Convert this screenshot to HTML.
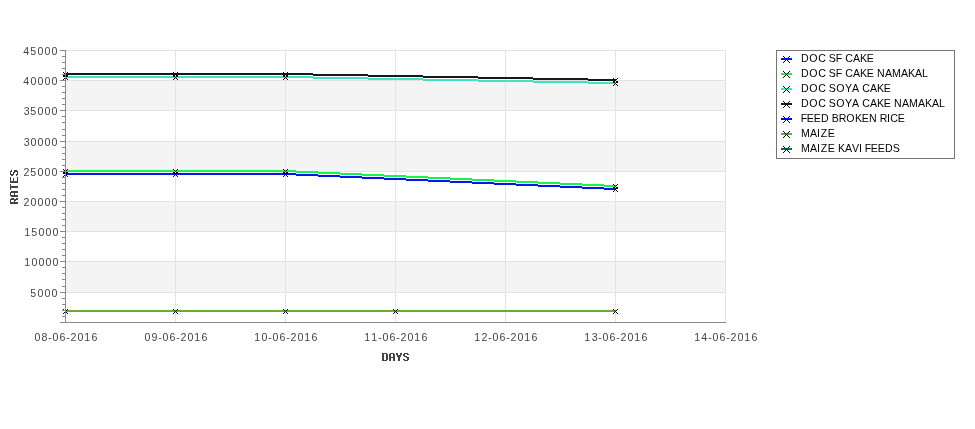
<!DOCTYPE html>
<html><head><meta charset="utf-8"><style>
html,body{margin:0;padding:0;background:#fff;width:975px;height:429px;overflow:hidden}
svg{display:block;will-change:transform}
text{font-family:"Liberation Sans",sans-serif;font-size:10.6px}
</style></head><body>
<svg width="975" height="429" viewBox="0 0 975 429">
<g shape-rendering="crispEdges">
<rect x="65" y="261" width="661" height="31" fill="#F4F4F4"/>
<rect x="65" y="201" width="661" height="30" fill="#F4F4F4"/>
<rect x="65" y="141" width="661" height="30" fill="#F4F4F4"/>
<rect x="65" y="80" width="661" height="30" fill="#F4F4F4"/>
<rect x="65" y="292" width="661" height="1" fill="#E3E3E3"/>
<rect x="65" y="261" width="661" height="1" fill="#E3E3E3"/>
<rect x="65" y="231" width="661" height="1" fill="#E3E3E3"/>
<rect x="65" y="201" width="661" height="1" fill="#E3E3E3"/>
<rect x="65" y="171" width="661" height="1" fill="#E3E3E3"/>
<rect x="65" y="141" width="661" height="1" fill="#E3E3E3"/>
<rect x="65" y="110" width="661" height="1" fill="#E3E3E3"/>
<rect x="65" y="80" width="661" height="1" fill="#E3E3E3"/>
<rect x="65" y="50" width="661" height="1" fill="#E3E3E3"/>
<rect x="175" y="50" width="1" height="272" fill="#E3E3E3"/>
<rect x="285" y="50" width="1" height="272" fill="#E3E3E3"/>
<rect x="395" y="50" width="1" height="272" fill="#E3E3E3"/>
<rect x="505" y="50" width="1" height="272" fill="#E3E3E3"/>
<rect x="615" y="50" width="1" height="272" fill="#E3E3E3"/>
<rect x="725" y="50" width="1" height="272" fill="#E3E3E3"/>
<rect x="65" y="73" width="248" height="1" fill="#18161E"/>
<rect x="65" y="74" width="303" height="1" fill="#18161E"/>
<rect x="313" y="75" width="110" height="1" fill="#18161E"/>
<rect x="368" y="76" width="110" height="1" fill="#18161E"/>
<rect x="65" y="76" width="248" height="1" fill="#40E2C4"/>
<rect x="423" y="77" width="110" height="1" fill="#18161E"/>
<rect x="65" y="77" width="303" height="1" fill="#40E2C4"/>
<rect x="478" y="78" width="110" height="1" fill="#18161E"/>
<rect x="313" y="78" width="110" height="1" fill="#40E2C4"/>
<rect x="533" y="79" width="83" height="1" fill="#18161E"/>
<rect x="368" y="79" width="110" height="1" fill="#40E2C4"/>
<rect x="588" y="80" width="28" height="1" fill="#18161E"/>
<rect x="423" y="80" width="110" height="1" fill="#40E2C4"/>
<rect x="478" y="81" width="110" height="1" fill="#40E2C4"/>
<rect x="533" y="82" width="83" height="1" fill="#40E2C4"/>
<rect x="588" y="83" width="28" height="1" fill="#40E2C4"/>
<rect x="65" y="170" width="231" height="1" fill="#1AF44A"/>
<rect x="65" y="171" width="253" height="1" fill="#1AF44A"/>
<rect x="296" y="172" width="44" height="1" fill="#1AF44A"/>
<rect x="65" y="173" width="231" height="1" fill="#0018EE"/>
<rect x="318" y="173" width="44" height="1" fill="#1AF44A"/>
<rect x="65" y="174" width="253" height="1" fill="#0018EE"/>
<rect x="340" y="174" width="44" height="1" fill="#1AF44A"/>
<rect x="296" y="175" width="44" height="1" fill="#0018EE"/>
<rect x="362" y="175" width="44" height="1" fill="#1AF44A"/>
<rect x="318" y="176" width="44" height="1" fill="#0018EE"/>
<rect x="384" y="176" width="44" height="1" fill="#1AF44A"/>
<rect x="340" y="177" width="44" height="1" fill="#0018EE"/>
<rect x="406" y="177" width="44" height="1" fill="#1AF44A"/>
<rect x="362" y="178" width="44" height="1" fill="#0018EE"/>
<rect x="428" y="178" width="44" height="1" fill="#1AF44A"/>
<rect x="384" y="179" width="44" height="1" fill="#0018EE"/>
<rect x="450" y="179" width="44" height="1" fill="#1AF44A"/>
<rect x="406" y="180" width="44" height="1" fill="#0018EE"/>
<rect x="472" y="180" width="44" height="1" fill="#1AF44A"/>
<rect x="428" y="181" width="44" height="1" fill="#0018EE"/>
<rect x="494" y="181" width="44" height="1" fill="#1AF44A"/>
<rect x="450" y="182" width="44" height="1" fill="#0018EE"/>
<rect x="516" y="182" width="44" height="1" fill="#1AF44A"/>
<rect x="472" y="183" width="44" height="1" fill="#0018EE"/>
<rect x="538" y="183" width="44" height="1" fill="#1AF44A"/>
<rect x="494" y="184" width="44" height="1" fill="#0018EE"/>
<rect x="560" y="184" width="44" height="1" fill="#1AF44A"/>
<rect x="516" y="185" width="44" height="1" fill="#0018EE"/>
<rect x="582" y="185" width="34" height="1" fill="#1AF44A"/>
<rect x="538" y="186" width="44" height="1" fill="#0018EE"/>
<rect x="604" y="186" width="12" height="1" fill="#1AF44A"/>
<rect x="560" y="187" width="44" height="1" fill="#0018EE"/>
<rect x="582" y="188" width="34" height="1" fill="#0018EE"/>
<rect x="604" y="189" width="12" height="1" fill="#0018EE"/>
<rect x="65" y="310" width="551" height="1" fill="#68AE2C"/>
<rect x="65" y="311" width="551" height="1" fill="#68AE2C"/>
<rect x="63" y="72" width="1" height="1" fill="#000000"/>
<rect x="67" y="72" width="1" height="1" fill="#000000"/>
<rect x="173" y="72" width="1" height="1" fill="#000000"/>
<rect x="177" y="72" width="1" height="1" fill="#000000"/>
<rect x="283" y="72" width="1" height="1" fill="#000000"/>
<rect x="287" y="72" width="1" height="1" fill="#000000"/>
<rect x="64" y="73" width="1" height="1" fill="#000000"/>
<rect x="66" y="73" width="1" height="1" fill="#000000"/>
<rect x="174" y="73" width="1" height="1" fill="#000000"/>
<rect x="176" y="73" width="1" height="1" fill="#000000"/>
<rect x="284" y="73" width="1" height="1" fill="#000000"/>
<rect x="286" y="73" width="1" height="1" fill="#000000"/>
<rect x="65" y="74" width="1" height="1" fill="#000000"/>
<rect x="175" y="74" width="1" height="1" fill="#000000"/>
<rect x="285" y="74" width="1" height="1" fill="#000000"/>
<rect x="63" y="75" width="2" height="1" fill="#000000"/>
<rect x="66" y="75" width="2" height="1" fill="#000000"/>
<rect x="173" y="75" width="2" height="1" fill="#000000"/>
<rect x="176" y="75" width="2" height="1" fill="#000000"/>
<rect x="283" y="75" width="2" height="1" fill="#000000"/>
<rect x="286" y="75" width="2" height="1" fill="#000000"/>
<rect x="63" y="76" width="2" height="1" fill="#000000"/>
<rect x="66" y="76" width="2" height="1" fill="#000000"/>
<rect x="173" y="76" width="2" height="1" fill="#000000"/>
<rect x="176" y="76" width="2" height="1" fill="#000000"/>
<rect x="283" y="76" width="2" height="1" fill="#000000"/>
<rect x="286" y="76" width="2" height="1" fill="#000000"/>
<rect x="65" y="77" width="1" height="1" fill="#000000"/>
<rect x="175" y="77" width="1" height="1" fill="#000000"/>
<rect x="285" y="77" width="1" height="1" fill="#000000"/>
<rect x="64" y="78" width="1" height="1" fill="#000000"/>
<rect x="66" y="78" width="1" height="1" fill="#000000"/>
<rect x="174" y="78" width="1" height="1" fill="#000000"/>
<rect x="176" y="78" width="1" height="1" fill="#000000"/>
<rect x="284" y="78" width="1" height="1" fill="#000000"/>
<rect x="286" y="78" width="1" height="1" fill="#000000"/>
<rect x="613" y="78" width="1" height="1" fill="#000000"/>
<rect x="617" y="78" width="1" height="1" fill="#000000"/>
<rect x="63" y="79" width="1" height="1" fill="#000000"/>
<rect x="67" y="79" width="1" height="1" fill="#000000"/>
<rect x="173" y="79" width="1" height="1" fill="#000000"/>
<rect x="177" y="79" width="1" height="1" fill="#000000"/>
<rect x="283" y="79" width="1" height="1" fill="#000000"/>
<rect x="287" y="79" width="1" height="1" fill="#000000"/>
<rect x="614" y="79" width="1" height="1" fill="#000000"/>
<rect x="616" y="79" width="1" height="1" fill="#000000"/>
<rect x="615" y="80" width="1" height="1" fill="#000000"/>
<rect x="613" y="81" width="2" height="1" fill="#000000"/>
<rect x="616" y="81" width="2" height="1" fill="#000000"/>
<rect x="613" y="82" width="2" height="1" fill="#000000"/>
<rect x="616" y="82" width="2" height="1" fill="#000000"/>
<rect x="615" y="83" width="1" height="1" fill="#000000"/>
<rect x="614" y="84" width="1" height="1" fill="#000000"/>
<rect x="616" y="84" width="1" height="1" fill="#000000"/>
<rect x="613" y="85" width="1" height="1" fill="#000000"/>
<rect x="617" y="85" width="1" height="1" fill="#000000"/>
<rect x="63" y="169" width="1" height="1" fill="#000000"/>
<rect x="67" y="169" width="1" height="1" fill="#000000"/>
<rect x="173" y="169" width="1" height="1" fill="#000000"/>
<rect x="177" y="169" width="1" height="1" fill="#000000"/>
<rect x="283" y="169" width="1" height="1" fill="#000000"/>
<rect x="287" y="169" width="1" height="1" fill="#000000"/>
<rect x="64" y="170" width="1" height="1" fill="#000000"/>
<rect x="66" y="170" width="1" height="1" fill="#000000"/>
<rect x="174" y="170" width="1" height="1" fill="#000000"/>
<rect x="176" y="170" width="1" height="1" fill="#000000"/>
<rect x="284" y="170" width="1" height="1" fill="#000000"/>
<rect x="286" y="170" width="1" height="1" fill="#000000"/>
<rect x="65" y="171" width="1" height="1" fill="#000000"/>
<rect x="175" y="171" width="1" height="1" fill="#000000"/>
<rect x="285" y="171" width="1" height="1" fill="#000000"/>
<rect x="63" y="172" width="2" height="1" fill="#000000"/>
<rect x="66" y="172" width="2" height="1" fill="#000000"/>
<rect x="173" y="172" width="2" height="1" fill="#000000"/>
<rect x="176" y="172" width="2" height="1" fill="#000000"/>
<rect x="283" y="172" width="2" height="1" fill="#000000"/>
<rect x="286" y="172" width="2" height="1" fill="#000000"/>
<rect x="63" y="173" width="2" height="1" fill="#000000"/>
<rect x="66" y="173" width="2" height="1" fill="#000000"/>
<rect x="173" y="173" width="2" height="1" fill="#000000"/>
<rect x="176" y="173" width="2" height="1" fill="#000000"/>
<rect x="283" y="173" width="2" height="1" fill="#000000"/>
<rect x="286" y="173" width="2" height="1" fill="#000000"/>
<rect x="65" y="174" width="1" height="1" fill="#000000"/>
<rect x="175" y="174" width="1" height="1" fill="#000000"/>
<rect x="285" y="174" width="1" height="1" fill="#000000"/>
<rect x="64" y="175" width="1" height="1" fill="#000000"/>
<rect x="66" y="175" width="1" height="1" fill="#000000"/>
<rect x="174" y="175" width="1" height="1" fill="#000000"/>
<rect x="176" y="175" width="1" height="1" fill="#000000"/>
<rect x="284" y="175" width="1" height="1" fill="#000000"/>
<rect x="286" y="175" width="1" height="1" fill="#000000"/>
<rect x="63" y="176" width="1" height="1" fill="#000000"/>
<rect x="67" y="176" width="1" height="1" fill="#000000"/>
<rect x="173" y="176" width="1" height="1" fill="#000000"/>
<rect x="177" y="176" width="1" height="1" fill="#000000"/>
<rect x="283" y="176" width="1" height="1" fill="#000000"/>
<rect x="287" y="176" width="1" height="1" fill="#000000"/>
<rect x="613" y="184" width="1" height="1" fill="#000000"/>
<rect x="617" y="184" width="1" height="1" fill="#000000"/>
<rect x="614" y="185" width="1" height="1" fill="#000000"/>
<rect x="616" y="185" width="1" height="1" fill="#000000"/>
<rect x="615" y="186" width="1" height="1" fill="#000000"/>
<rect x="613" y="187" width="2" height="1" fill="#000000"/>
<rect x="616" y="187" width="2" height="1" fill="#000000"/>
<rect x="613" y="188" width="2" height="1" fill="#000000"/>
<rect x="616" y="188" width="2" height="1" fill="#000000"/>
<rect x="615" y="189" width="1" height="1" fill="#000000"/>
<rect x="614" y="190" width="1" height="1" fill="#000000"/>
<rect x="616" y="190" width="1" height="1" fill="#000000"/>
<rect x="613" y="191" width="1" height="1" fill="#000000"/>
<rect x="617" y="191" width="1" height="1" fill="#000000"/>
<rect x="63" y="309" width="1" height="1" fill="#000000"/>
<rect x="67" y="309" width="1" height="1" fill="#000000"/>
<rect x="173" y="309" width="1" height="1" fill="#000000"/>
<rect x="177" y="309" width="1" height="1" fill="#000000"/>
<rect x="283" y="309" width="1" height="1" fill="#000000"/>
<rect x="287" y="309" width="1" height="1" fill="#000000"/>
<rect x="393" y="309" width="1" height="1" fill="#000000"/>
<rect x="397" y="309" width="1" height="1" fill="#000000"/>
<rect x="613" y="309" width="1" height="1" fill="#000000"/>
<rect x="617" y="309" width="1" height="1" fill="#000000"/>
<rect x="64" y="310" width="1" height="1" fill="#000000"/>
<rect x="66" y="310" width="1" height="1" fill="#000000"/>
<rect x="174" y="310" width="1" height="1" fill="#000000"/>
<rect x="176" y="310" width="1" height="1" fill="#000000"/>
<rect x="284" y="310" width="1" height="1" fill="#000000"/>
<rect x="286" y="310" width="1" height="1" fill="#000000"/>
<rect x="394" y="310" width="1" height="1" fill="#000000"/>
<rect x="396" y="310" width="1" height="1" fill="#000000"/>
<rect x="614" y="310" width="1" height="1" fill="#000000"/>
<rect x="616" y="310" width="1" height="1" fill="#000000"/>
<rect x="65" y="311" width="1" height="1" fill="#000000"/>
<rect x="175" y="311" width="1" height="1" fill="#000000"/>
<rect x="285" y="311" width="1" height="1" fill="#000000"/>
<rect x="395" y="311" width="1" height="1" fill="#000000"/>
<rect x="615" y="311" width="1" height="1" fill="#000000"/>
<rect x="64" y="312" width="1" height="1" fill="#000000"/>
<rect x="66" y="312" width="1" height="1" fill="#000000"/>
<rect x="174" y="312" width="1" height="1" fill="#000000"/>
<rect x="176" y="312" width="1" height="1" fill="#000000"/>
<rect x="284" y="312" width="1" height="1" fill="#000000"/>
<rect x="286" y="312" width="1" height="1" fill="#000000"/>
<rect x="394" y="312" width="1" height="1" fill="#000000"/>
<rect x="396" y="312" width="1" height="1" fill="#000000"/>
<rect x="614" y="312" width="1" height="1" fill="#000000"/>
<rect x="616" y="312" width="1" height="1" fill="#000000"/>
<rect x="63" y="313" width="1" height="1" fill="#000000"/>
<rect x="67" y="313" width="1" height="1" fill="#000000"/>
<rect x="173" y="313" width="1" height="1" fill="#000000"/>
<rect x="177" y="313" width="1" height="1" fill="#000000"/>
<rect x="283" y="313" width="1" height="1" fill="#000000"/>
<rect x="287" y="313" width="1" height="1" fill="#000000"/>
<rect x="393" y="313" width="1" height="1" fill="#000000"/>
<rect x="397" y="313" width="1" height="1" fill="#000000"/>
<rect x="613" y="313" width="1" height="1" fill="#000000"/>
<rect x="617" y="313" width="1" height="1" fill="#000000"/>
<rect x="65" y="50" width="1" height="273" fill="#888888"/>
<rect x="65" y="322" width="661" height="1" fill="#888888"/>
<rect x="60" y="322" width="5" height="1" fill="#888888"/>
<rect x="60" y="292" width="5" height="1" fill="#888888"/>
<rect x="60" y="261" width="5" height="1" fill="#888888"/>
<rect x="60" y="231" width="5" height="1" fill="#888888"/>
<rect x="60" y="201" width="5" height="1" fill="#888888"/>
<rect x="60" y="171" width="5" height="1" fill="#888888"/>
<rect x="60" y="141" width="5" height="1" fill="#888888"/>
<rect x="60" y="110" width="5" height="1" fill="#888888"/>
<rect x="60" y="80" width="5" height="1" fill="#888888"/>
<rect x="60" y="50" width="5" height="1" fill="#888888"/>
<rect x="62" y="316" width="3" height="1" fill="#888888"/>
<rect x="62" y="310" width="3" height="1" fill="#888888"/>
<rect x="62" y="304" width="3" height="1" fill="#888888"/>
<rect x="62" y="298" width="3" height="1" fill="#888888"/>
<rect x="62" y="286" width="3" height="1" fill="#888888"/>
<rect x="62" y="279" width="3" height="1" fill="#888888"/>
<rect x="62" y="273" width="3" height="1" fill="#888888"/>
<rect x="62" y="267" width="3" height="1" fill="#888888"/>
<rect x="62" y="255" width="3" height="1" fill="#888888"/>
<rect x="62" y="249" width="3" height="1" fill="#888888"/>
<rect x="62" y="243" width="3" height="1" fill="#888888"/>
<rect x="62" y="237" width="3" height="1" fill="#888888"/>
<rect x="62" y="225" width="3" height="1" fill="#888888"/>
<rect x="62" y="219" width="3" height="1" fill="#888888"/>
<rect x="62" y="213" width="3" height="1" fill="#888888"/>
<rect x="62" y="207" width="3" height="1" fill="#888888"/>
<rect x="62" y="195" width="3" height="1" fill="#888888"/>
<rect x="62" y="189" width="3" height="1" fill="#888888"/>
<rect x="62" y="183" width="3" height="1" fill="#888888"/>
<rect x="62" y="177" width="3" height="1" fill="#888888"/>
<rect x="62" y="165" width="3" height="1" fill="#888888"/>
<rect x="62" y="159" width="3" height="1" fill="#888888"/>
<rect x="62" y="153" width="3" height="1" fill="#888888"/>
<rect x="62" y="147" width="3" height="1" fill="#888888"/>
<rect x="62" y="135" width="3" height="1" fill="#888888"/>
<rect x="62" y="129" width="3" height="1" fill="#888888"/>
<rect x="62" y="122" width="3" height="1" fill="#888888"/>
<rect x="62" y="116" width="3" height="1" fill="#888888"/>
<rect x="62" y="104" width="3" height="1" fill="#888888"/>
<rect x="62" y="98" width="3" height="1" fill="#888888"/>
<rect x="62" y="92" width="3" height="1" fill="#888888"/>
<rect x="62" y="86" width="3" height="1" fill="#888888"/>
<rect x="62" y="74" width="3" height="1" fill="#888888"/>
<rect x="62" y="68" width="3" height="1" fill="#888888"/>
<rect x="62" y="62" width="3" height="1" fill="#888888"/>
<rect x="62" y="56" width="3" height="1" fill="#888888"/>
<rect x="776" y="50" width="179" height="109" fill="#747474"/>
<rect x="777" y="51" width="177" height="107" fill="#FFFFFF"/>
<rect x="781" y="58" width="11" height="2" fill="#0018EE"/>
<rect x="781" y="73" width="11" height="2" fill="#1AF44A"/>
<rect x="781" y="88" width="11" height="2" fill="#40E2C4"/>
<rect x="781" y="103" width="11" height="2" fill="#18161E"/>
<rect x="781" y="118" width="11" height="2" fill="#0000EE"/>
<rect x="781" y="133" width="11" height="2" fill="#68AE2C"/>
<rect x="781" y="148" width="11" height="2" fill="#006A6E"/>
<rect x="783" y="56" width="1" height="1" fill="#000000"/>
<rect x="789" y="56" width="1" height="1" fill="#000000"/>
<rect x="784" y="57" width="1" height="1" fill="#000000"/>
<rect x="788" y="57" width="1" height="1" fill="#000000"/>
<rect x="785" y="58" width="1" height="1" fill="#000000"/>
<rect x="787" y="58" width="1" height="1" fill="#000000"/>
<rect x="786" y="59" width="1" height="1" fill="#000000"/>
<rect x="785" y="60" width="1" height="1" fill="#000000"/>
<rect x="787" y="60" width="1" height="1" fill="#000000"/>
<rect x="784" y="61" width="1" height="1" fill="#000000"/>
<rect x="788" y="61" width="1" height="1" fill="#000000"/>
<rect x="783" y="62" width="1" height="1" fill="#000000"/>
<rect x="789" y="62" width="1" height="1" fill="#000000"/>
<rect x="783" y="71" width="1" height="1" fill="#000000"/>
<rect x="789" y="71" width="1" height="1" fill="#000000"/>
<rect x="784" y="72" width="1" height="1" fill="#000000"/>
<rect x="788" y="72" width="1" height="1" fill="#000000"/>
<rect x="785" y="73" width="1" height="1" fill="#000000"/>
<rect x="787" y="73" width="1" height="1" fill="#000000"/>
<rect x="786" y="74" width="1" height="1" fill="#000000"/>
<rect x="785" y="75" width="1" height="1" fill="#000000"/>
<rect x="787" y="75" width="1" height="1" fill="#000000"/>
<rect x="784" y="76" width="1" height="1" fill="#000000"/>
<rect x="788" y="76" width="1" height="1" fill="#000000"/>
<rect x="783" y="77" width="1" height="1" fill="#000000"/>
<rect x="789" y="77" width="1" height="1" fill="#000000"/>
<rect x="783" y="86" width="1" height="1" fill="#000000"/>
<rect x="789" y="86" width="1" height="1" fill="#000000"/>
<rect x="784" y="87" width="1" height="1" fill="#000000"/>
<rect x="788" y="87" width="1" height="1" fill="#000000"/>
<rect x="785" y="88" width="1" height="1" fill="#000000"/>
<rect x="787" y="88" width="1" height="1" fill="#000000"/>
<rect x="786" y="89" width="1" height="1" fill="#000000"/>
<rect x="785" y="90" width="1" height="1" fill="#000000"/>
<rect x="787" y="90" width="1" height="1" fill="#000000"/>
<rect x="784" y="91" width="1" height="1" fill="#000000"/>
<rect x="788" y="91" width="1" height="1" fill="#000000"/>
<rect x="783" y="92" width="1" height="1" fill="#000000"/>
<rect x="789" y="92" width="1" height="1" fill="#000000"/>
<rect x="783" y="101" width="1" height="1" fill="#000000"/>
<rect x="789" y="101" width="1" height="1" fill="#000000"/>
<rect x="784" y="102" width="1" height="1" fill="#000000"/>
<rect x="788" y="102" width="1" height="1" fill="#000000"/>
<rect x="785" y="103" width="1" height="1" fill="#000000"/>
<rect x="787" y="103" width="1" height="1" fill="#000000"/>
<rect x="786" y="104" width="1" height="1" fill="#000000"/>
<rect x="785" y="105" width="1" height="1" fill="#000000"/>
<rect x="787" y="105" width="1" height="1" fill="#000000"/>
<rect x="784" y="106" width="1" height="1" fill="#000000"/>
<rect x="788" y="106" width="1" height="1" fill="#000000"/>
<rect x="783" y="107" width="1" height="1" fill="#000000"/>
<rect x="789" y="107" width="1" height="1" fill="#000000"/>
<rect x="783" y="116" width="1" height="1" fill="#000000"/>
<rect x="789" y="116" width="1" height="1" fill="#000000"/>
<rect x="784" y="117" width="1" height="1" fill="#000000"/>
<rect x="788" y="117" width="1" height="1" fill="#000000"/>
<rect x="785" y="118" width="1" height="1" fill="#000000"/>
<rect x="787" y="118" width="1" height="1" fill="#000000"/>
<rect x="786" y="119" width="1" height="1" fill="#000000"/>
<rect x="785" y="120" width="1" height="1" fill="#000000"/>
<rect x="787" y="120" width="1" height="1" fill="#000000"/>
<rect x="784" y="121" width="1" height="1" fill="#000000"/>
<rect x="788" y="121" width="1" height="1" fill="#000000"/>
<rect x="783" y="122" width="1" height="1" fill="#000000"/>
<rect x="789" y="122" width="1" height="1" fill="#000000"/>
<rect x="783" y="131" width="1" height="1" fill="#000000"/>
<rect x="789" y="131" width="1" height="1" fill="#000000"/>
<rect x="784" y="132" width="1" height="1" fill="#000000"/>
<rect x="788" y="132" width="1" height="1" fill="#000000"/>
<rect x="785" y="133" width="1" height="1" fill="#000000"/>
<rect x="787" y="133" width="1" height="1" fill="#000000"/>
<rect x="786" y="134" width="1" height="1" fill="#000000"/>
<rect x="785" y="135" width="1" height="1" fill="#000000"/>
<rect x="787" y="135" width="1" height="1" fill="#000000"/>
<rect x="784" y="136" width="1" height="1" fill="#000000"/>
<rect x="788" y="136" width="1" height="1" fill="#000000"/>
<rect x="783" y="137" width="1" height="1" fill="#000000"/>
<rect x="789" y="137" width="1" height="1" fill="#000000"/>
<rect x="783" y="146" width="1" height="1" fill="#000000"/>
<rect x="789" y="146" width="1" height="1" fill="#000000"/>
<rect x="784" y="147" width="1" height="1" fill="#000000"/>
<rect x="788" y="147" width="1" height="1" fill="#000000"/>
<rect x="785" y="148" width="1" height="1" fill="#000000"/>
<rect x="787" y="148" width="1" height="1" fill="#000000"/>
<rect x="786" y="149" width="1" height="1" fill="#000000"/>
<rect x="785" y="150" width="1" height="1" fill="#000000"/>
<rect x="787" y="150" width="1" height="1" fill="#000000"/>
<rect x="784" y="151" width="1" height="1" fill="#000000"/>
<rect x="788" y="151" width="1" height="1" fill="#000000"/>
<rect x="783" y="152" width="1" height="1" fill="#000000"/>
<rect x="789" y="152" width="1" height="1" fill="#000000"/>
<g aria-label="DAYS" role="img">
<rect x="382" y="353" width="5" height="1" fill="#444444"/>
<rect x="390" y="353" width="4" height="1" fill="#444444"/>
<rect x="396" y="353" width="2" height="1" fill="#444444"/>
<rect x="400" y="353" width="2" height="1" fill="#444444"/>
<rect x="404" y="353" width="4" height="1" fill="#444444"/>
<rect x="382" y="354" width="2" height="1" fill="#444444"/>
<rect x="386" y="354" width="2" height="1" fill="#444444"/>
<rect x="389" y="354" width="2" height="1" fill="#444444"/>
<rect x="393" y="354" width="2" height="1" fill="#444444"/>
<rect x="396" y="354" width="2" height="1" fill="#444444"/>
<rect x="400" y="354" width="2" height="1" fill="#444444"/>
<rect x="403" y="354" width="2" height="1" fill="#444444"/>
<rect x="407" y="354" width="2" height="1" fill="#444444"/>
<rect x="382" y="355" width="2" height="1" fill="#444444"/>
<rect x="386" y="355" width="2" height="1" fill="#444444"/>
<rect x="389" y="355" width="2" height="1" fill="#444444"/>
<rect x="393" y="355" width="2" height="1" fill="#444444"/>
<rect x="397" y="355" width="4" height="1" fill="#444444"/>
<rect x="403" y="355" width="2" height="1" fill="#444444"/>
<rect x="382" y="356" width="2" height="1" fill="#444444"/>
<rect x="386" y="356" width="2" height="1" fill="#444444"/>
<rect x="389" y="356" width="2" height="1" fill="#444444"/>
<rect x="393" y="356" width="2" height="1" fill="#444444"/>
<rect x="397" y="356" width="4" height="1" fill="#444444"/>
<rect x="404" y="356" width="3" height="1" fill="#444444"/>
<rect x="382" y="357" width="2" height="1" fill="#444444"/>
<rect x="386" y="357" width="2" height="1" fill="#444444"/>
<rect x="389" y="357" width="6" height="1" fill="#444444"/>
<rect x="398" y="357" width="2" height="1" fill="#444444"/>
<rect x="406" y="357" width="3" height="1" fill="#444444"/>
<rect x="382" y="358" width="2" height="1" fill="#444444"/>
<rect x="386" y="358" width="2" height="1" fill="#444444"/>
<rect x="389" y="358" width="2" height="1" fill="#444444"/>
<rect x="393" y="358" width="2" height="1" fill="#444444"/>
<rect x="398" y="358" width="2" height="1" fill="#444444"/>
<rect x="407" y="358" width="2" height="1" fill="#444444"/>
<rect x="382" y="359" width="2" height="1" fill="#444444"/>
<rect x="386" y="359" width="2" height="1" fill="#444444"/>
<rect x="389" y="359" width="2" height="1" fill="#444444"/>
<rect x="393" y="359" width="2" height="1" fill="#444444"/>
<rect x="398" y="359" width="2" height="1" fill="#444444"/>
<rect x="403" y="359" width="2" height="1" fill="#444444"/>
<rect x="407" y="359" width="2" height="1" fill="#444444"/>
<rect x="382" y="360" width="5" height="1" fill="#444444"/>
<rect x="389" y="360" width="2" height="1" fill="#444444"/>
<rect x="393" y="360" width="2" height="1" fill="#444444"/>
<rect x="398" y="360" width="2" height="1" fill="#444444"/>
<rect x="404" y="360" width="4" height="1" fill="#444444"/>
</g>
<g aria-label="RATES" role="img">
<rect x="11" y="170" width="1" height="1" fill="#444444"/>
<rect x="14" y="170" width="3" height="1" fill="#444444"/>
<rect x="10" y="171" width="2" height="1" fill="#444444"/>
<rect x="14" y="171" width="4" height="1" fill="#444444"/>
<rect x="10" y="172" width="1" height="1" fill="#444444"/>
<rect x="13" y="172" width="2" height="1" fill="#444444"/>
<rect x="17" y="172" width="1" height="1" fill="#444444"/>
<rect x="10" y="173" width="1" height="1" fill="#444444"/>
<rect x="13" y="173" width="1" height="1" fill="#444444"/>
<rect x="17" y="173" width="1" height="1" fill="#444444"/>
<rect x="10" y="174" width="4" height="1" fill="#444444"/>
<rect x="16" y="174" width="2" height="1" fill="#444444"/>
<rect x="11" y="175" width="2" height="1" fill="#444444"/>
<rect x="16" y="175" width="1" height="1" fill="#444444"/>
<rect x="10" y="177" width="1" height="1" fill="#444444"/>
<rect x="17" y="177" width="1" height="1" fill="#444444"/>
<rect x="10" y="178" width="1" height="1" fill="#444444"/>
<rect x="13" y="178" width="1" height="1" fill="#444444"/>
<rect x="17" y="178" width="1" height="1" fill="#444444"/>
<rect x="10" y="179" width="1" height="1" fill="#444444"/>
<rect x="13" y="179" width="1" height="1" fill="#444444"/>
<rect x="17" y="179" width="1" height="1" fill="#444444"/>
<rect x="10" y="180" width="1" height="1" fill="#444444"/>
<rect x="13" y="180" width="1" height="1" fill="#444444"/>
<rect x="17" y="180" width="1" height="1" fill="#444444"/>
<rect x="10" y="181" width="8" height="1" fill="#444444"/>
<rect x="10" y="182" width="8" height="1" fill="#444444"/>
<rect x="10" y="184" width="1" height="1" fill="#444444"/>
<rect x="10" y="185" width="1" height="1" fill="#444444"/>
<rect x="10" y="186" width="8" height="1" fill="#444444"/>
<rect x="10" y="187" width="8" height="1" fill="#444444"/>
<rect x="10" y="188" width="1" height="1" fill="#444444"/>
<rect x="10" y="189" width="1" height="1" fill="#444444"/>
<rect x="11" y="191" width="7" height="1" fill="#444444"/>
<rect x="10" y="192" width="8" height="1" fill="#444444"/>
<rect x="10" y="193" width="1" height="1" fill="#444444"/>
<rect x="14" y="193" width="1" height="1" fill="#444444"/>
<rect x="10" y="194" width="1" height="1" fill="#444444"/>
<rect x="14" y="194" width="1" height="1" fill="#444444"/>
<rect x="10" y="195" width="8" height="1" fill="#444444"/>
<rect x="11" y="196" width="7" height="1" fill="#444444"/>
<rect x="11" y="198" width="3" height="1" fill="#444444"/>
<rect x="16" y="198" width="2" height="1" fill="#444444"/>
<rect x="10" y="199" width="8" height="1" fill="#444444"/>
<rect x="10" y="200" width="1" height="1" fill="#444444"/>
<rect x="14" y="200" width="2" height="1" fill="#444444"/>
<rect x="10" y="201" width="1" height="1" fill="#444444"/>
<rect x="14" y="201" width="1" height="1" fill="#444444"/>
<rect x="10" y="202" width="8" height="1" fill="#444444"/>
<rect x="10" y="203" width="8" height="1" fill="#444444"/>
</g>
</g>
<g>
<text x="30.22 37.47 44.47 51.47" y="297" fill="#444444">5000</text>
<text x="24.25 31.47 38.47 45.47 52.47" y="266" fill="#444444">10000</text>
<text x="24.25 31.22 38.47 45.47 52.47" y="236" fill="#444444">15000</text>
<text x="23.59 30.47 37.47 44.47 51.47" y="206" fill="#444444">20000</text>
<text x="23.59 30.22 37.47 44.47 51.47" y="176" fill="#444444">25000</text>
<text x="23.63 30.47 37.47 44.47 51.47" y="146" fill="#444444">30000</text>
<text x="23.63 30.22 37.47 44.47 51.47" y="115" fill="#444444">35000</text>
<text x="23.26 30.47 37.47 44.47 51.47" y="85" fill="#444444">40000</text>
<text x="23.26 30.22 37.47 44.47 51.47" y="55" fill="#444444">45000</text>
<text x="34.47 41.45 48.19 52.47 59.40 66.19 70.59 77.47 84.25 91.40" y="341" fill="#444444">08-06-2016</text>
<text x="144.47 151.49 158.19 162.47 169.40 176.19 180.59 187.47 194.25 201.40" y="341" fill="#444444">09-06-2016</text>
<text x="254.25 261.47 268.19 272.47 279.40 286.19 290.59 297.47 304.25 311.40" y="341" fill="#444444">10-06-2016</text>
<text x="364.25 371.25 378.19 382.47 389.40 396.19 400.59 407.47 414.25 421.40" y="341" fill="#444444">11-06-2016</text>
<text x="474.25 481.59 488.19 492.47 499.40 506.19 510.59 517.47 524.25 531.40" y="341" fill="#444444">12-06-2016</text>
<text x="584.25 591.63 598.19 602.47 609.40 616.19 620.59 627.47 634.25 641.40" y="341" fill="#444444">13-06-2016</text>
<text x="694.25 701.26 708.19 712.47 719.40 726.19 730.59 737.47 744.25 751.40" y="341" fill="#444444">14-06-2016</text>
<text x="800.93 809.27 818.27 821.27 828.75 835.66 838.66 845.27 853.11 859.99 866.69" y="62" fill="#000000">DOC SF CAKE</text>
<text x="800.93 809.27 818.27 821.27 828.75 835.66 838.66 845.27 853.11 859.99 866.69 869.69 877.03 885.11 891.98 901.11 907.99 915.11 922.06" y="77" fill="#000000">DOC SF CAKE NAMAKAL</text>
<text x="800.93 809.27 818.27 821.27 828.75 836.27 844.89 852.11 855.11 862.27 870.11 876.99 883.69" y="92" fill="#000000">DOC SOYA CAKE</text>
<text x="800.93 809.27 818.27 821.27 828.75 836.27 844.89 852.11 855.11 862.27 870.11 876.99 883.69 886.69 894.03 902.11 908.98 918.11 924.99 932.11 939.06" y="107" fill="#000000">DOC SOYA CAKE NAMAKAL</text>
<text x="800.66 806.69 813.69 820.93 823.93 831.85 838.71 846.27 854.99 861.69 869.03 872.03 879.71 886.92 890.27 897.69" y="122" fill="#000000">FEED BROKEN RICE</text>
<text x="800.98 810.11 816.92 820.83 827.69" y="137" fill="#000000">MAIZE</text>
<text x="800.98 810.11 816.92 820.83 827.69 830.69 837.99 845.11 852.12 858.92 861.92 864.66 870.69 877.69 884.93 892.75" y="152" fill="#000000">MAIZE KAVI FEEDS</text>
</g>
</svg>
</body></html>
